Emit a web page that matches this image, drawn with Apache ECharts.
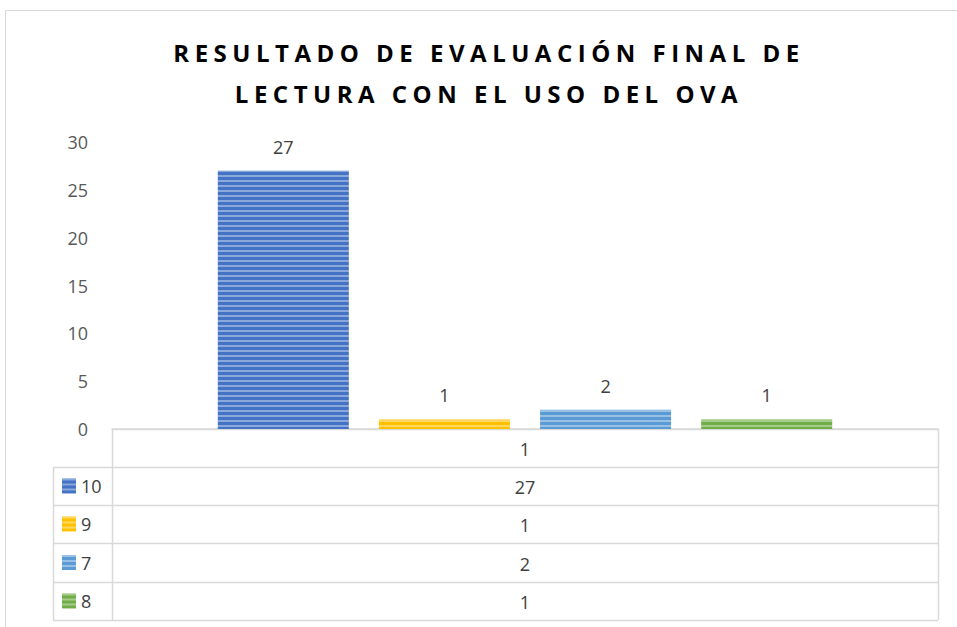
<!DOCTYPE html>
<html>
<head>
<meta charset="utf-8">
<script src="https://cdn.jsdelivr.net/npm/echarts@6/dist/echarts.min.js"></script>
<style>
html,body{margin:0;padding:0;background:#fff;}
#chart{width:957px;height:627px;}
</style>
</head>
<body>
<div id="chart"></div>
<script>
// ---- data ----
const titleLines = ['RESULTADO DE EVALUACIÓN FINAL DE', 'LECTURA CON EL USO DEL OVA'];
const categories = ['1'];
const seriesNames = ['10', '9', '7', '8'];
const s10 = [27];
const s9 = [1];
const s7 = [2];
const s8 = [1];
const yTicks = { min: 0, max: 30, interval: 5 };

// ---- style / layout ----
const colors = ['#4472C4', '#FFC000', '#5B9BD5', '#70AD47'];
const seriesValues = [s10, s9, s7, s8];
const FONT = '"Open Sans", "Liberation Sans", sans-serif';
const gridL = 112, gridR = 938, gridT = 142, gridB = 429;
const rowYs = [429, 467, 505, 543, 582, 620];
const tableLeft = 53;
const lineColor = '#D9D9D9';

const chart = echarts.init(document.getElementById('chart'), null, { renderer: 'svg' });

const decal = {
  symbol: 'rect',
  symbolSize: 1,
  dashArrayX: [1, 0],
  dashArrayY: [2, 3],
  rotation: 0,
  color: 'rgba(255,255,255,0.38)'
};

const series = seriesNames.map((n, i) => ({
  name: n,
  type: 'bar',
  data: seriesValues[i],
  barWidth: 131,
  barGap: '23%',
  itemStyle: { color: colors[i], decal: decal },
  label: {
    show: true, position: 'top', distance: 15,
    color: '#404040', fontSize: 18, fontFamily: FONT
  }
}));

const graphics = [];
// outer chart border
graphics.push({ type: 'rect', shape: { x: 5.5, y: 10.5, width: 980, height: 640 },
  style: { fill: 'none', stroke: lineColor, lineWidth: 1 }, silent: true });
// title
titleLines.forEach((t, i) => {
  graphics.push({ type: 'text', x: 489, y: 52 + i * 41,
    style: { text: t, textAlign: 'center', textVerticalAlign: 'middle',
      font: 'bold 24px ' + FONT, fill: '#000' }, silent: true });
});
// table lines
function hline(y, x1, x2) {
  graphics.push({ type: 'line', shape: { x1: x1, y1: y + 0.5, x2: x2, y2: y + 0.5 },
    style: { stroke: lineColor, lineWidth: 1.5 }, silent: true });
}
function vline(x, y1, y2) {
  graphics.push({ type: 'line', shape: { x1: x + 0.5, y1: y1, x2: x + 0.5, y2: y2 },
    style: { stroke: lineColor, lineWidth: 1.5 }, silent: true });
}
hline(rowYs[0], gridL, gridR);
for (let i = 1; i < rowYs.length; i++) hline(rowYs[i], tableLeft, gridR);
vline(gridL, rowYs[0], rowYs[rowYs.length - 1]);
vline(gridR, rowYs[0], rowYs[rowYs.length - 1]);
vline(tableLeft, rowYs[1], rowYs[rowYs.length - 1]);
// table texts
const cx = (gridL + gridR) / 2;
const cellTexts = [categories[0]].concat(seriesValues.map(v => String(v[0])));
cellTexts.forEach((t, i) => {
  graphics.push({ type: 'text', x: cx, y: (rowYs[i] + rowYs[i + 1]) / 2 + 1,
    style: { text: t, textAlign: 'center', textVerticalAlign: 'middle',
      font: '18px ' + FONT, fill: '#404040' }, silent: true });
});

// one legend per table row
const legends = seriesNames.map((n, i) => ({
  show: true, orient: 'horizontal', left: 62,
  top: (rowYs[i + 1] + rowYs[i + 2]) / 2 - 12,
  itemWidth: 14, itemHeight: 15, itemTextGap: 5,
  selectedMode: false, icon: 'rect', padding: 0,
  textStyle: { color: '#404040', fontSize: 18, fontFamily: FONT, lineHeight: 24 },
  data: [n]
}));

chart.setOption({
  animation: false,
  backgroundColor: '#fff',
  grid: { left: gridL, right: 957 - gridR, top: gridT, bottom: 627 - gridB, containLabel: false },
  legend: legends,
  xAxis: {
    type: 'category', data: categories,
    axisLine: { show: true, lineStyle: { color: lineColor, width: 1.5 } },
    axisTick: { show: false }, axisLabel: { show: false }, splitLine: { show: false }
  },
  yAxis: {
    type: 'value', min: yTicks.min, max: yTicks.max, interval: yTicks.interval,
    axisLine: { show: false }, axisTick: { show: false }, splitLine: { show: false },
    axisLabel: { color: '#595959', fontSize: 18, fontFamily: FONT, margin: 24 }
  },
  series: series,
  graphic: graphics
});

// letter spacing for title lines (SVG text)
document.querySelectorAll('#chart svg text').forEach(el => {
  const t = el.textContent;
  if (titleLines.indexOf(t) >= 0) {
    el.style.letterSpacing = '5.5px';
  }
});
</script>
</body>
</html>
